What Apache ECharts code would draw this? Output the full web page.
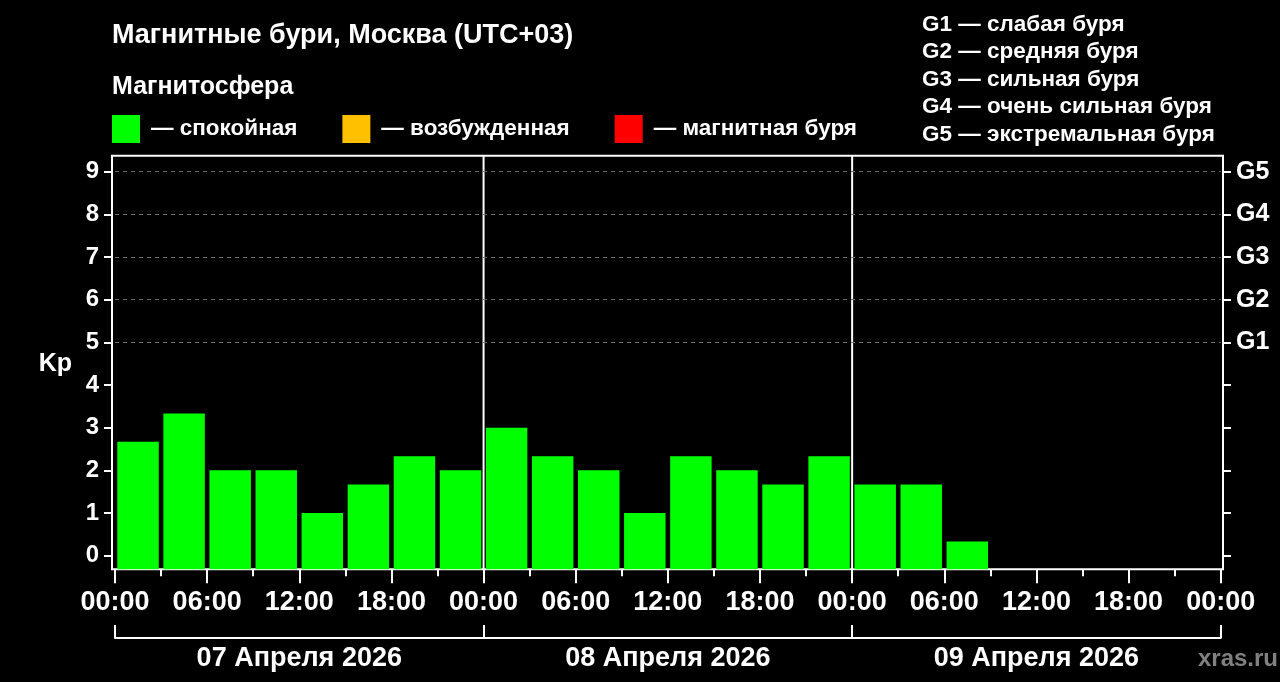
<!DOCTYPE html>
<html>
<head>
<meta charset="utf-8">
<title>Магнитные бури</title>
<script src="https://cdn.jsdelivr.net/npm/echarts@6.0.0/dist/echarts.min.js"></script>
<style>
  html, body { margin: 0; padding: 0; background: #000; }
  #main { width: 1280px; height: 682px; }
</style>
</head>
<body>
<div id="main"></div>
<script>
// данные Kp по трёхчасовым интервалам (07.04 00:00 ... 09.04 21:00)
var kpValues = [
  2.67, 3.33, 2, 2, 1, 1.67, 2.33, 2,
  3, 2.33, 2, 1, 2.33, 2, 1.67, 2.33,
  1.67, 1.67, 0.33, null, null, null, null, null
];
var dayLabels = ["07 Апреля 2026", "08 Апреля 2026", "09 Апреля 2026"];
var hourLabels = ["00:00", "06:00", "12:00", "18:00"];
var dayBreaks = [24, 48];
var stormLevels = [5, 6, 7, 8, 9];
var gLabels = ["G1", "G2", "G3", "G4", "G5"];
var legendNames = ["спокойная", "возбужденная", "магнитная буря"];
var legendColors = ["#00ff00", "#ffc000", "#ff0000"];
var scaleNotes = [
  "G1 — слабая буря",
  "G2 — средняя буря",
  "G3 — сильная буря",
  "G4 — очень сильная буря",
  "G5 — экстремальная буря"
];

var SLOT = 3;         // часов в интервале
var kpFloor = -0.32;  // низ рамки
var kpCeil = 9.375;   // верх рамки
var FONT = "Liberation Sans";

var chart = echarts.init(document.getElementById("main"));

var barData = kpValues.map(function (v, i) { return [i, v]; });

var option = {
  backgroundColor: "#000",
  textStyle: { fontFamily: FONT },
  animation: false,
  title: [
    {
      text: "Магнитные бури, Москва (UTC+03)",
      left: 107, top: 17,
      textStyle: { color: "#fff", fontSize: 27, fontWeight: "bold", fontFamily: FONT }
    },
    {
      text: "Магнитосфера",
      left: 107, top: 70,
      textStyle: { color: "#fff", fontSize: 25, fontWeight: "bold", fontFamily: FONT }
    },
    {
      text: scaleNotes.join("\n"),
      left: 917, top: 6,
      textStyle: { color: "#fff", fontSize: 22.5, fontWeight: "bold", lineHeight: 27.5, fontFamily: FONT }
    },
    {
      text: "xras.ru",
      right: -3, top: 642,
      textStyle: { color: "#808080", fontSize: 24, fontWeight: "bold", fontFamily: FONT }
    }
  ],
  legend: {
    left: 107, top: 110,
    itemWidth: 28, itemHeight: 28, itemGap: 45,
    icon: "rect",
    selectedMode: false,
    data: legendNames,
    formatter: function (name) { return "— " + name; },
    textStyle: { color: "#fff", fontSize: 22.5, fontWeight: "bold", fontFamily: FONT, padding: [0, 0, 0, 6] }
  },
  grid: [
    { left: 115, right: 59.3, top: 171.7, bottom: 126.35 },
    { left: 112, right: 57, top: 155.7, bottom: 112.7, show: true,
      borderColor: "#fff", borderWidth: 2, backgroundColor: "transparent" }
  ],
  xAxis: [
    {
      type: "value", gridIndex: 0,
      min: 0, max: 72, interval: 6,
      offset: 13.65,
      axisLine: { show: false, onZero: false },
      axisTick: { show: true, length: 14, lineStyle: { color: "#fff", width: 2 } },
      minorTick: { show: true, splitNumber: 2, length: 7, lineStyle: { color: "#fff", width: 2 } },
      splitLine: { show: false },
      axisLabel: {
        color: "#fff", fontSize: 27, fontWeight: "bold", margin: 20,
        showMinLabel: true, showMaxLabel: true,
        formatter: function (v) { return hourLabels[(v / 6) % 4]; }
      }
    },
    {
      type: "category", gridIndex: 0,
      data: dayLabels,
      position: "bottom",
      offset: 82.35,
      boundaryGap: true,
      axisLine: { show: true, onZero: false, lineStyle: { color: "#fff", width: 2 } },
      axisTick: { show: true, inside: true, length: 13, interval: 0, lineStyle: { color: "#fff", width: 2 } },
      axisLabel: { color: "#fff", fontSize: 27, fontWeight: "bold", margin: 7, interval: 0 }
    },
    { type: "value", gridIndex: 1, show: false, min: 0, max: 1 }
  ],
  yAxis: [
    {
      type: "value", gridIndex: 0, position: "left",
      min: 0, max: 9, interval: 1,
      offset: 3,
      name: "Kp", nameLocation: "middle", nameRotate: 0, nameGap: 40,
      nameTextStyle: { color: "#fff", fontSize: 25, fontWeight: "bold", fontFamily: FONT, padding: [12, 0, 0, 0] },
      axisLine: { show: false, onZero: false },
      axisTick: { show: true, length: 8, lineStyle: { color: "#fff", width: 2 } },
      splitLine: { show: false },
      axisLabel: { color: "#fff", fontSize: 24, fontWeight: "bold", margin: 13 }
    },
    {
      type: "value", gridIndex: 0, position: "right",
      min: 0, max: 9, interval: 1,
      offset: 2.3,
      axisLine: { show: false, onZero: false },
      axisTick: { show: true, length: 8, lineStyle: { color: "#fff", width: 2 } },
      splitLine: { show: false },
      axisLabel: {
        color: "#fff", fontSize: 25, fontWeight: "bold", margin: 13,
        formatter: function (v) { return v >= 5 ? gLabels[v - 5] : ""; }
      }
    },
    { type: "value", gridIndex: 1, show: false, min: 0, max: 1 }
  ],
  series: [
    {
      name: legendNames[0],
      type: "custom",
      xAxisIndex: 0, yAxisIndex: 0,
      clip: false,
      itemStyle: { color: legendColors[0] },
      data: barData,
      renderItem: function (params, api) {
        var val = api.value(1);
        if (val == null || isNaN(val)) return;
        var i = api.value(0);
        var w = api.size([SLOT, 0])[0];
        var top = api.coord([i * SLOT + SLOT / 2, val]);
        var bottom = api.coord([i * SLOT + SLOT / 2, kpFloor]);
        var bw = w * 0.9;
        return {
          type: "rect",
          shape: { x: top[0] - bw / 2, y: top[1], width: bw, height: bottom[1] - top[1] },
          style: { fill: legendColors[0] }
        };
      },
      markLine: {
        silent: true,
        symbol: "none",
        label: { show: false },
        lineStyle: { color: "#6e6e6e", type: [4, 4], width: 1 },
        data: stormLevels.map(function (v) { return { yAxis: v }; })
      },
      z: 2
    },
    {
      name: "day-breaks",
      type: "custom",
      xAxisIndex: 0, yAxisIndex: 0,
      clip: false,
      data: dayBreaks.map(function (h) { return [h, 0]; }),
      renderItem: function (params, api) {
        var p1 = api.coord([api.value(0), kpCeil]);
        var p2 = api.coord([api.value(0), kpFloor]);
        return {
          type: "line",
          shape: { x1: p1[0], y1: p1[1], x2: p2[0], y2: p2[1] },
          style: { stroke: "#fff", lineWidth: 2 }
        };
      },
      z: 3
    },
    {
      name: legendNames[1], type: "custom", xAxisIndex: 0, yAxisIndex: 0,
      itemStyle: { color: legendColors[1] }, data: [],
      renderItem: function () { return; }
    },
    {
      name: legendNames[2], type: "custom", xAxisIndex: 0, yAxisIndex: 0,
      itemStyle: { color: legendColors[2] }, data: [],
      renderItem: function () { return; }
    }
  ]
};

chart.setOption(option);
</script>
</body>
</html>
